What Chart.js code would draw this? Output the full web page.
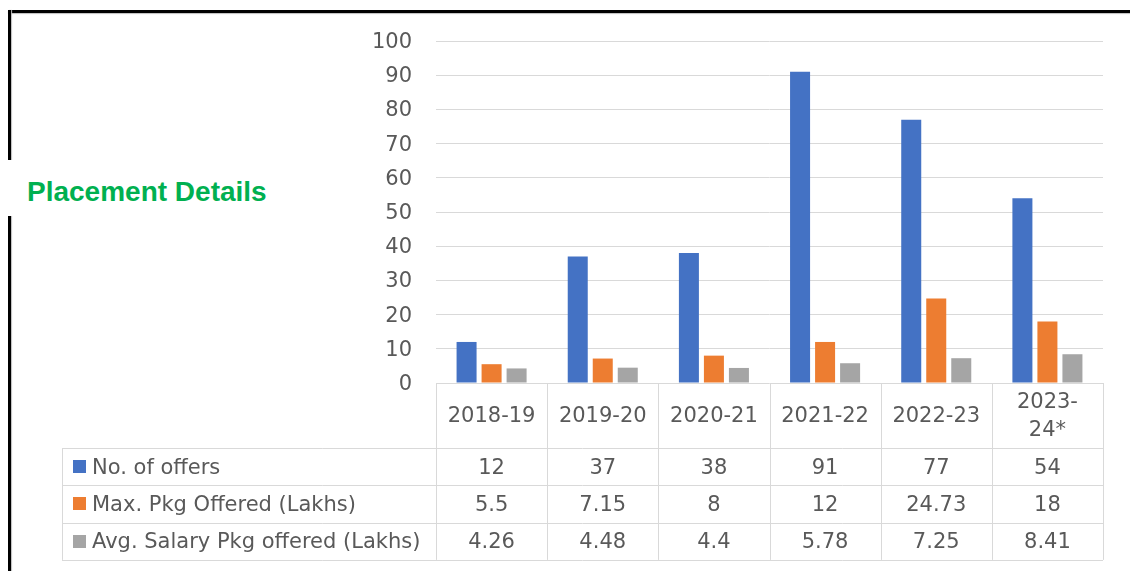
<!DOCTYPE html>
<html>
<head>
<meta charset="utf-8">
<script src="https://cdn.jsdelivr.net/npm/chart.js@4.4.1/dist/chart.umd.min.js"></script>
<style>
  html, body { margin: 0; padding: 0; background: #ffffff; }
  #wrap { position: relative; width: 1130px; height: 571px; overflow: hidden; background: #fff; }
  #c { position: absolute; left: 0; top: 0; }
  .bTop { position: absolute; left: 8px; top: 10px; width: 1130px; height: 3px; background: #000; box-shadow: 0 1px 1px #bdbdbd; }
  .bLeft { position: absolute; left: 8px; top: 10px; width: 3px; height: 571px; background: #000; box-shadow: 1px 0 1px #bdbdbd; }
  .titleBox { position: absolute; left: 0; top: 160px; width: 300px; height: 56px; background: #fff; }
  .title { position: absolute; left: 27px; top: 176px; font-family: "Liberation Sans", Arial, sans-serif; font-weight: bold; font-size: 28px; color: #00B050; white-space: nowrap; line-height: 32px; }
</style>
</head>
<body>
<div id="wrap">
  <div class="bTop"></div>
  <div class="bLeft"></div>
  <div class="titleBox"></div>
  <div class="title">Placement Details</div>
  <canvas id="c" width="1130" height="571"></canvas>
</div>
<script>
const categories = ["2018-19", "2019-20", "2020-21", "2021-22", "2022-23", ["2023-", "24*"]];
const seriesNames = ["No. of offers", "Max. Pkg Offered (Lakhs)", "Avg. Salary Pkg offered (Lakhs)"];
const offers = [12, 37, 38, 91, 77, 54];
const maxPkg = [5.5, 7.15, 8, 12, 24.73, 18];
const avgPkg = [4.26, 4.48, 4.4, 5.78, 7.25, 8.41];
const seriesColors = ["#4472C4", "#ED7D31", "#A5A5A5"];
const yTicks = [0, 10, 20, 30, 40, 50, 60, 70, 80, 90, 100];

const seriesData = [offers, maxPkg, avgPkg];
const FONT = '"DejaVu Sans", sans-serif';
const TEXT = '#595959';
const LINE = '#D9D9D9';

const tablePlugin = {
  id: 'dataTable',
  afterDraw(chart) {
    const ctx = chart.ctx;
    const x = chart.scales.x;
    const area = chart.chartArea;
    const n = categories.length;
    const colW = (area.right - area.left) / n;
    const top = area.bottom;
    const headerBottom = top + 65;
    const rowH = 37.3;
    const tableLeft = 62;
    const tableBottom = headerBottom + rowH * seriesNames.length;
    ctx.save();
    ctx.strokeStyle = LINE;
    ctx.lineWidth = 1;
    for (let r = 0; r <= seriesNames.length; r++) {
      const yy = Math.round(headerBottom + r * rowH) + 0.5;
      ctx.beginPath();
      ctx.moveTo(tableLeft, yy);
      ctx.lineTo(area.right, yy);
      ctx.stroke();
    }
    for (let i = 0; i <= n; i++) {
      const xx = Math.round(area.left + i * colW) + 0.5;
      ctx.beginPath();
      ctx.moveTo(xx, top);
      ctx.lineTo(xx, tableBottom);
      ctx.stroke();
    }
    ctx.beginPath();
    ctx.moveTo(tableLeft + 0.5, headerBottom);
    ctx.lineTo(tableLeft + 0.5, tableBottom);
    ctx.stroke();

    ctx.fillStyle = TEXT;
    ctx.font = '21px ' + FONT;
    ctx.textAlign = 'center';
    ctx.textBaseline = 'middle';
    const headerMid = (top + headerBottom) / 2;
    categories.forEach((c, i) => {
      const cx = x.getPixelForValue(i);
      const lines = Array.isArray(c) ? c : [c];
      const lh = 28;
      lines.forEach((ln, k) => {
        ctx.fillText(ln, cx, headerMid + 1.5 + (k - (lines.length - 1) / 2) * lh);
      });
    });
    seriesNames.forEach((name, r) => {
      const cy = headerBottom + r * rowH + rowH / 2;
      ctx.fillStyle = seriesColors[r];
      ctx.fillRect(73, Math.round(cy - 6.5), 13, 13);
      ctx.fillStyle = TEXT;
      ctx.textAlign = 'left';
      ctx.fillText(name, 92, cy + 1.5);
      ctx.textAlign = 'center';
      seriesData[r].forEach((v, i) => {
        ctx.fillText(String(v), x.getPixelForValue(i), cy + 1.5);
      });
    });
    ctx.restore();
  }
};

new Chart(document.getElementById('c'), {
  type: 'bar',
  data: {
    labels: categories,
    datasets: seriesNames.map((name, k) => ({
      label: name,
      data: seriesData[k],
      backgroundColor: seriesColors[k],
      borderWidth: 0,
      categoryPercentage: 0.675,
      barPercentage: 0.8
    }))
  },
  options: {
    responsive: false,
    animation: false,
    devicePixelRatio: 1,
    layout: { padding: { left: 0, top: 41, right: 27, bottom: 188 } },
    plugins: {
      legend: { display: false },
      tooltip: { enabled: false },
      title: { display: false }
    },
    scales: {
      x: { display: false },
      y: {
        min: 0, max: 100,
        afterBuildTicks(scale) { scale.ticks = yTicks.map(v => ({ value: v })); },
        afterFit(scale) { scale.width = 436; },
        border: { display: false },
        grid: { color: LINE, lineWidth: 1, drawTicks: false },
        ticks: { color: TEXT, font: { family: FONT, size: 21 }, padding: 24, labelOffset: 1.5 }
      }
    }
  },
  plugins: [tablePlugin]
});
</script>
</body>
</html>
